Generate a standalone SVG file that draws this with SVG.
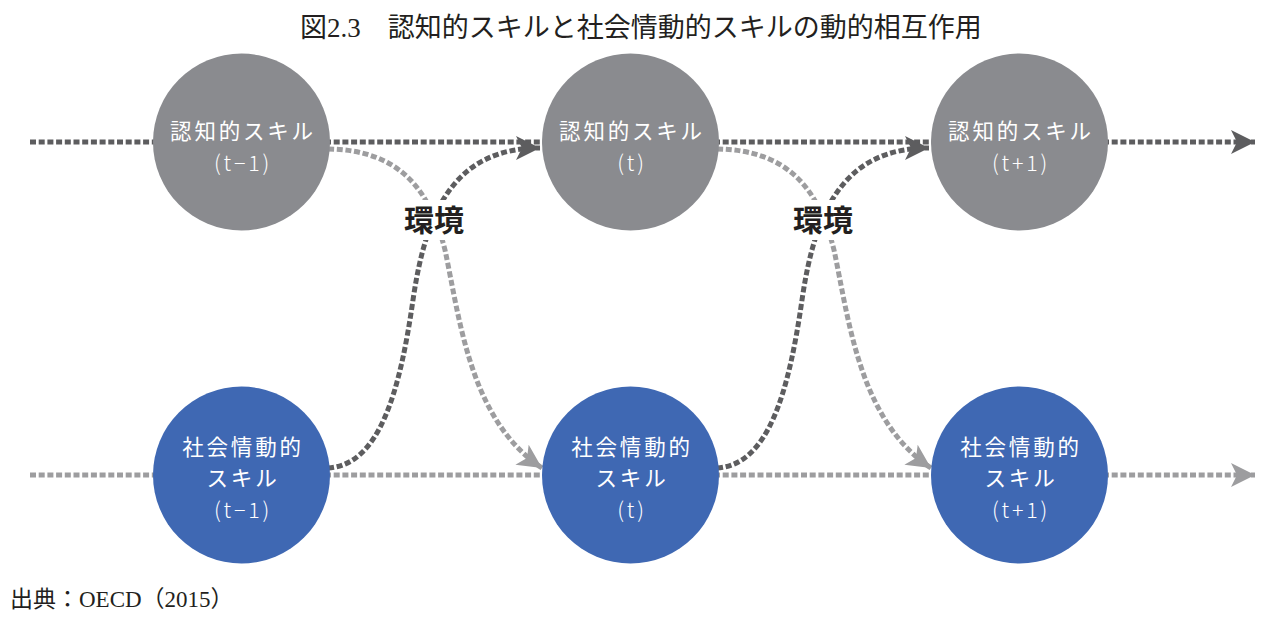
<svg xmlns="http://www.w3.org/2000/svg" width="1264" height="624" viewBox="0 0 1264 624">
<style>
.t{font-family:"Liberation Serif","Noto Sans CJK JP",serif;fill:#231f20}
.nl{font-family:"Noto Sans CJK JP","Noto Sans",sans-serif;font-size:21.5px;letter-spacing:2.8px;fill:#ffffff;text-anchor:middle}
.pr{font-weight:300}
.env{font-family:"Noto Sans CJK JP",sans-serif;font-size:30px;font-weight:bold;fill:#231f20;text-anchor:middle}
.cog{fill:#8a8b8f}
.soc{fill:#3f68b3}
.dk{fill:none;stroke:#5d5d5f;stroke-width:5;stroke-dasharray:6 2.7}
.lt{fill:none;stroke:#9d9d9f;stroke-width:5;stroke-dasharray:6 2.7}
</style>
<defs>
<marker id="ad" markerUnits="userSpaceOnUse" markerWidth="24" markerHeight="24" viewBox="0 0 24 24" refX="24" refY="12" orient="auto"><path d="M0,0 L24,12 L0,24 L6,12 Z" fill="#5d5d5f"/></marker>
<marker id="al" markerUnits="userSpaceOnUse" markerWidth="24" markerHeight="24" viewBox="0 0 24 24" refX="24" refY="12" orient="auto"><path d="M0,0 L24,12 L0,24 L6,12 Z" fill="#9d9d9f"/></marker>
</defs>
<rect width="1264" height="624" fill="#ffffff"/>
<text class="t" x="300" y="37" font-size="27">図2.3　認知的スキルと社会情動的スキルの動的相互作用</text>

<g id="connectors">
<path class="dk" d="M30,142 H160"/>
<path class="dk" d="M325,142 H545"/>
<path class="dk" d="M714,142 H935"/>
<path class="dk" d="M1103,142 H1255" marker-end="url(#ad)"/>
<path class="lt" d="M30,475 H160"/>
<path class="lt" d="M325,475 H545"/>
<path class="lt" d="M714,475 H935"/>
<path class="lt" d="M1103,475 H1255" marker-end="url(#al)"/>
<path class="lt" d="M328,149 C400,150 430,190 445,250 C460,320 470,420 542,468" marker-end="url(#al)"/>
<path class="dk" d="M328,468 C380,465 400,390 413,300 C426,210 455,148 540,148" marker-end="url(#ad)"/>
<path class="lt" d="M717,149 C789,150 819,190 834,250 C849,320 859,420 931,468" marker-end="url(#al)"/>
<path class="dk" d="M717,468 C769,465 789,390 802,300 C815,210 844,148 929,148" marker-end="url(#ad)"/>
</g>

<g id="env1"><rect x="400" y="200" width="68" height="40" fill="#ffffff"/><text class="env" x="434" y="231">環境</text></g>
<g id="env2"><rect x="789" y="200" width="68" height="40" fill="#ffffff"/><text class="env" x="823" y="231">環境</text></g>

<g id="cog-t-1"><circle class="cog" cx="241.5" cy="142" r="88.5"/><text class="nl" x="243" y="138.5">認知的スキル</text><text class="nl pr" x="243" y="170.5">(t−1)</text></g>
<g id="cog-t"><circle class="cog" cx="630.5" cy="142" r="88.5"/><text class="nl" x="632" y="138.5">認知的スキル</text><text class="nl pr" x="632" y="170.5">(t)</text></g>
<g id="cog-t+1"><circle class="cog" cx="1019.5" cy="142" r="88.5"/><text class="nl" x="1021" y="138.5">認知的スキル</text><text class="nl pr" x="1021" y="170.5">(t+1)</text></g>

<g id="soc-t-1"><circle class="soc" cx="241.5" cy="475" r="88.5"/><text class="nl" x="243" y="454.5">社会情動的</text><text class="nl" x="243" y="486">スキル</text><text class="nl pr" x="243" y="517.5">(t−1)</text></g>
<g id="soc-t"><circle class="soc" cx="630.5" cy="475" r="88.5"/><text class="nl" x="632" y="454.5">社会情動的</text><text class="nl" x="632" y="486">スキル</text><text class="nl pr" x="632" y="517.5">(t)</text></g>
<g id="soc-t+1"><circle class="soc" cx="1019.5" cy="475" r="88.5"/><text class="nl" x="1021" y="454.5">社会情動的</text><text class="nl" x="1021" y="486">スキル</text><text class="nl pr" x="1021" y="517.5">(t+1)</text></g>

<text class="t" x="10" y="607" font-size="23">出典：OECD（2015）</text>
</svg>
